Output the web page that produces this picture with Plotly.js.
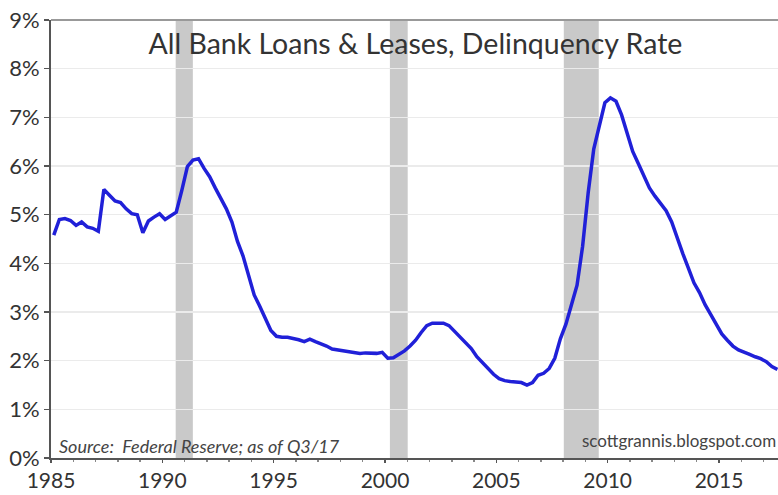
<!DOCTYPE html>
<html>
<head>
<meta charset="utf-8">
<script src="https://cdn.plot.ly/plotly-3.0.1.min.js"></script>
<style>html,body{margin:0;padding:0;background:#fff;}#chart{width:778px;height:495px;}</style>
</head>
<body>
<div id="chart"></div>
<script>
// Quarterly delinquency rate (%), 1985 Q1 .. 2017 Q3
const startYear = 1985;
const rate1985_1992 = [
  4.58, 4.90, 4.92, 4.88,
  4.78, 4.85, 4.75, 4.72,
  4.66, 5.52, 5.40, 5.28,
  5.25, 5.12, 5.02, 5.00,
  4.63, 4.87, 4.95, 5.02,
  4.90, 4.97, 5.05, 5.50,
  5.99, 6.12, 6.15, 5.95,
  5.78, 5.55, 5.35, 5.12
];
const rate1993_2000 = [
  4.85, 4.45, 4.15, 3.75,
  3.35, 3.12, 2.85, 2.62,
  2.50, 2.48, 2.48, 2.46,
  2.43, 2.39, 2.44, 2.39,
  2.35, 2.30, 2.24, 2.22,
  2.20, 2.18, 2.16, 2.15,
  2.16, 2.15, 2.15, 2.17,
  2.05, 2.06, 2.12, 2.20
];
const rate2001_2008 = [
  2.30, 2.42, 2.58, 2.72,
  2.77, 2.77, 2.77, 2.72,
  2.60, 2.48, 2.38, 2.25,
  2.08, 1.96, 1.84, 1.72,
  1.63, 1.59, 1.57, 1.56,
  1.55, 1.50, 1.55, 1.70,
  1.74, 1.84, 2.05, 2.45,
  2.75, 3.15, 3.55, 4.35
];
const rate2009_2017 = [
  5.45, 6.35, 6.85, 7.30,
  7.40, 7.33, 7.05, 6.65,
  6.30, 6.05, 5.80, 5.55,
  5.38, 5.22, 5.08, 4.85,
  4.50, 4.20, 3.90, 3.60,
  3.40, 3.15, 2.95, 2.75,
  2.55, 2.42, 2.30, 2.22,
  2.18, 2.13, 2.08, 2.04,
  1.98, 1.88, 1.82
];
// Recession bands (decimal years) as drawn
const recessionStart = [1990.60, 2000.22, 2008.03];
const recessionEnd   = [1991.37, 2001.02, 2009.60];
const xTickVals = [1985, 1990, 1995, 2000, 2005, 2010, 2015];
const yTickVals = [0, 1, 2, 3, 4, 5, 6, 7, 8, 9];

const rate = rate1985_1992.concat(rate1993_2000, rate2001_2008, rate2009_2017);
const xs = rate.map((_, i) => startYear + (i + 0.5) / 4);

const fam = 'Lato, "Open Sans", sans-serif';

const shapes = recessionStart.map((s, i) => ({
  type: 'rect', xref: 'x', yref: 'y', x0: s, x1: recessionEnd[i], y0: 0, y1: 9,
  fillcolor: '#c9c9c9', line: {width: 0}, layer: 'below'
}));
shapes.push({type: 'line', xref: 'paper', yref: 'paper', x0: 0, x1: 1, y0: 1, y1: 1,
  line: {color: '#999', width: 2}});

const trace = {
  x: xs, y: rate, type: 'scatter', mode: 'lines',
  line: {color: '#2020d8', width: 3.5}, hoverinfo: 'skip'
};

const layout = {
  width: 778, height: 495,
  margin: {l: 51, r: 0, t: 20, b: 37},
  paper_bgcolor: '#fff', plot_bgcolor: '#fff',
  showlegend: false,
  title: {
    text: 'All Bank Loans &amp; Leases, Delinquency Rate',
    font: {family: fam, size: 28.5, color: '#333'},
    x: 0.534, xanchor: 'center', xref: 'container',
    y: 1 - 44 / 495, yanchor: 'middle', yref: 'container'
  },
  xaxis: {
    range: [1985, 2017.65], tickvals: xTickVals, ticktext: xTickVals.map(String),
    showgrid: false, zeroline: false,
    showline: true, linecolor: '#555', linewidth: 2,
    ticks: 'outside', ticklen: 3, tickcolor: '#555', tickwidth: 1.5,
    minor: {ticks: 'outside', dtick: 1, tick0: 1985, ticklen: 2, tickcolor: '#888', showgrid: false},
    tickfont: {family: fam, size: 21, color: '#333'}, fixedrange: true
  },
  yaxis: {
    range: [0, 9], tickvals: yTickVals, ticktext: yTickVals.map(v => v + '%'),
    showgrid: true, gridcolor: '#ebebeb', gridwidth: 1.5, zeroline: false,
    showline: true, linecolor: '#555', linewidth: 2,
    ticks: 'outside', ticklen: 5, tickcolor: '#555', tickwidth: 1.5,
    tickfont: {family: fam, size: 22, color: '#333'}, fixedrange: true
  },
  shapes: shapes,
  annotations: [
    {xref: 'paper', yref: 'paper', x: 0.008, y: 0.027, xanchor: 'left', yanchor: 'middle',
     text: '<i>Source:  Federal Reserve; as of Q3/17</i>', showarrow: false,
     font: {family: fam, size: 18, color: '#444'}},
    {xref: 'paper', yref: 'paper', x: 1, y: 0.04, xanchor: 'right', yanchor: 'middle',
     text: 'scottgrannis.blogspot.com', showarrow: false,
     font: {family: fam, size: 17, color: '#444'}}
  ]
};

Plotly.newPlot('chart', [trace], layout, {displayModeBar: false, staticPlot: true});
</script>
</body>
</html>
